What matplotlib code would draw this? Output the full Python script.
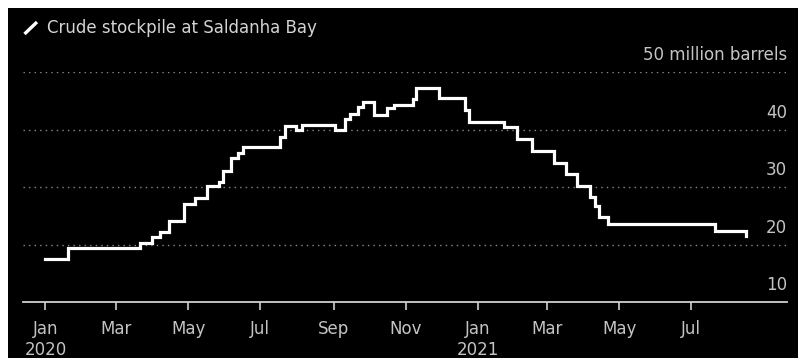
import pandas as pd
import matplotlib
matplotlib.use('Agg')
import matplotlib.pyplot as plt
from matplotlib.patches import Rectangle
from matplotlib.lines import Line2D

# date each stockpile level starts (million barrels)
step_dates = [
    '2020-01-01', '2020-01-20', '2020-03-21', '2020-03-31', '2020-04-07',
    '2020-04-15', '2020-04-27', '2020-05-07', '2020-05-17', '2020-05-27',
    '2020-05-30', '2020-06-06', '2020-06-12', '2020-06-16', '2020-07-18',
    '2020-07-22', '2020-07-31', '2020-08-05', '2020-09-02', '2020-09-11',
    '2020-09-15', '2020-09-22', '2020-09-26', '2020-10-05', '2020-10-16',
    '2020-10-22', '2020-11-07', '2020-11-10', '2020-11-29', '2020-12-21',
    '2020-12-25', '2021-01-23', '2021-02-03', '2021-02-16', '2021-03-07',
    '2021-03-17', '2021-03-26', '2021-04-06', '2021-04-10', '2021-04-14',
    '2021-04-21', '2021-07-21', '2021-08-16',
]
stockpile = [
    17.4, 19.4, 20.3, 21.3, 22.2,
    24.1, 27.0, 28.1, 30.1, 30.9,
    32.8, 35.0, 35.9, 37.0, 38.7,
    40.6, 39.9, 40.7, 39.9, 41.8,
    42.7, 43.9, 44.7, 42.5, 43.7,
    44.3, 45.3, 47.3, 45.4, 43.4,
    41.3, 40.4, 38.3, 36.3, 34.2,
    32.3, 30.2, 28.3, 26.7, 24.7,
    23.6, 22.4, 21.5,
]

tick_dates = ['2020-01-01', '2020-03-01', '2020-05-01', '2020-07-01', '2020-09-01',
              '2020-11-01', '2021-01-01', '2021-03-01', '2021-05-01', '2021-07-01']
tick_labels = ['Jan\n2020', 'Mar', 'May', 'Jul', 'Sep', 'Nov',
               'Jan\n2021', 'Mar', 'May', 'Jul']
y_labels = [10, 20, 30, 40]
y_top = 50
unit_label = '50 million barrels'
legend_label = 'Crude stockpile at Saldanha Bay'

W, H = 798, 358
txt_color = '#c4c4c4'
plt.rcParams['font.family'] = ['DejaVu Sans']

fig = plt.figure(figsize=(W / 100, H / 100), dpi=100)
fig.patch.set_facecolor('white')
fig.add_artist(Rectangle((8 / W, 0), 1 - 8 / W, 1 - 8 / H, transform=fig.transFigure,
                         facecolor='black', edgecolor='none', zorder=0))

ax = fig.add_axes([23 / W, 56 / H, 764 / W, 230 / H])
ax.set_facecolor('none')

dates = pd.to_datetime(step_dates)
ax.plot(dates, stockpile, drawstyle='steps-post', color='white', lw=2.3,
        solid_joinstyle='miter', zorder=3)

ax.set_xlim(pd.Timestamp('2019-12-13'), pd.Timestamp('2021-09-20'))
ax.set_ylim(y_labels[0], y_top)

# dotted gridlines
for v in y_labels[1:] + [y_top]:
    ax.axhline(v, color='#8a8a8a', lw=1.0, ls=(0, (1, 3)), zorder=1)

for s in ['top', 'left', 'right']:
    ax.spines[s].set_visible(False)
ax.spines['bottom'].set_color('#cfcfcf')
ax.spines['bottom'].set_linewidth(1.3)

ax.set_xticks(pd.to_datetime(tick_dates))
ax.set_xticklabels(tick_labels, linespacing=1.2)
ax.tick_params(axis='x', colors=txt_color, length=6, width=1.2, pad=7, labelsize=12)
ax.tick_params(axis='x', color='#cfcfcf')
ax.set_yticks([])

# value labels sit above their gridlines on the right
for v in y_labels:
    ax.annotate(str(v), xy=(1, v), xycoords=('axes fraction', 'data'),
                xytext=(0, 8.5), textcoords='offset points', ha='right', va='baseline',
                color=txt_color, fontsize=12)
ax.annotate(unit_label, xy=(1, y_top), xycoords=('axes fraction', 'data'),
            xytext=(0, 8.5), textcoords='offset points', ha='right', va='baseline',
            color=txt_color, fontsize=12)

# legend
fig.add_artist(Line2D([24.5 / W, 37 / W], [1 - 34 / H, 1 - 22 / H], transform=fig.transFigure,
                      color='white', lw=2.4, solid_capstyle='butt'))
fig.text(47 / W, 1 - 28 / H, legend_label, color='#d4d4d4', fontsize=12,
         ha='left', va='center')

fig.savefig('out.png', dpi=100)
